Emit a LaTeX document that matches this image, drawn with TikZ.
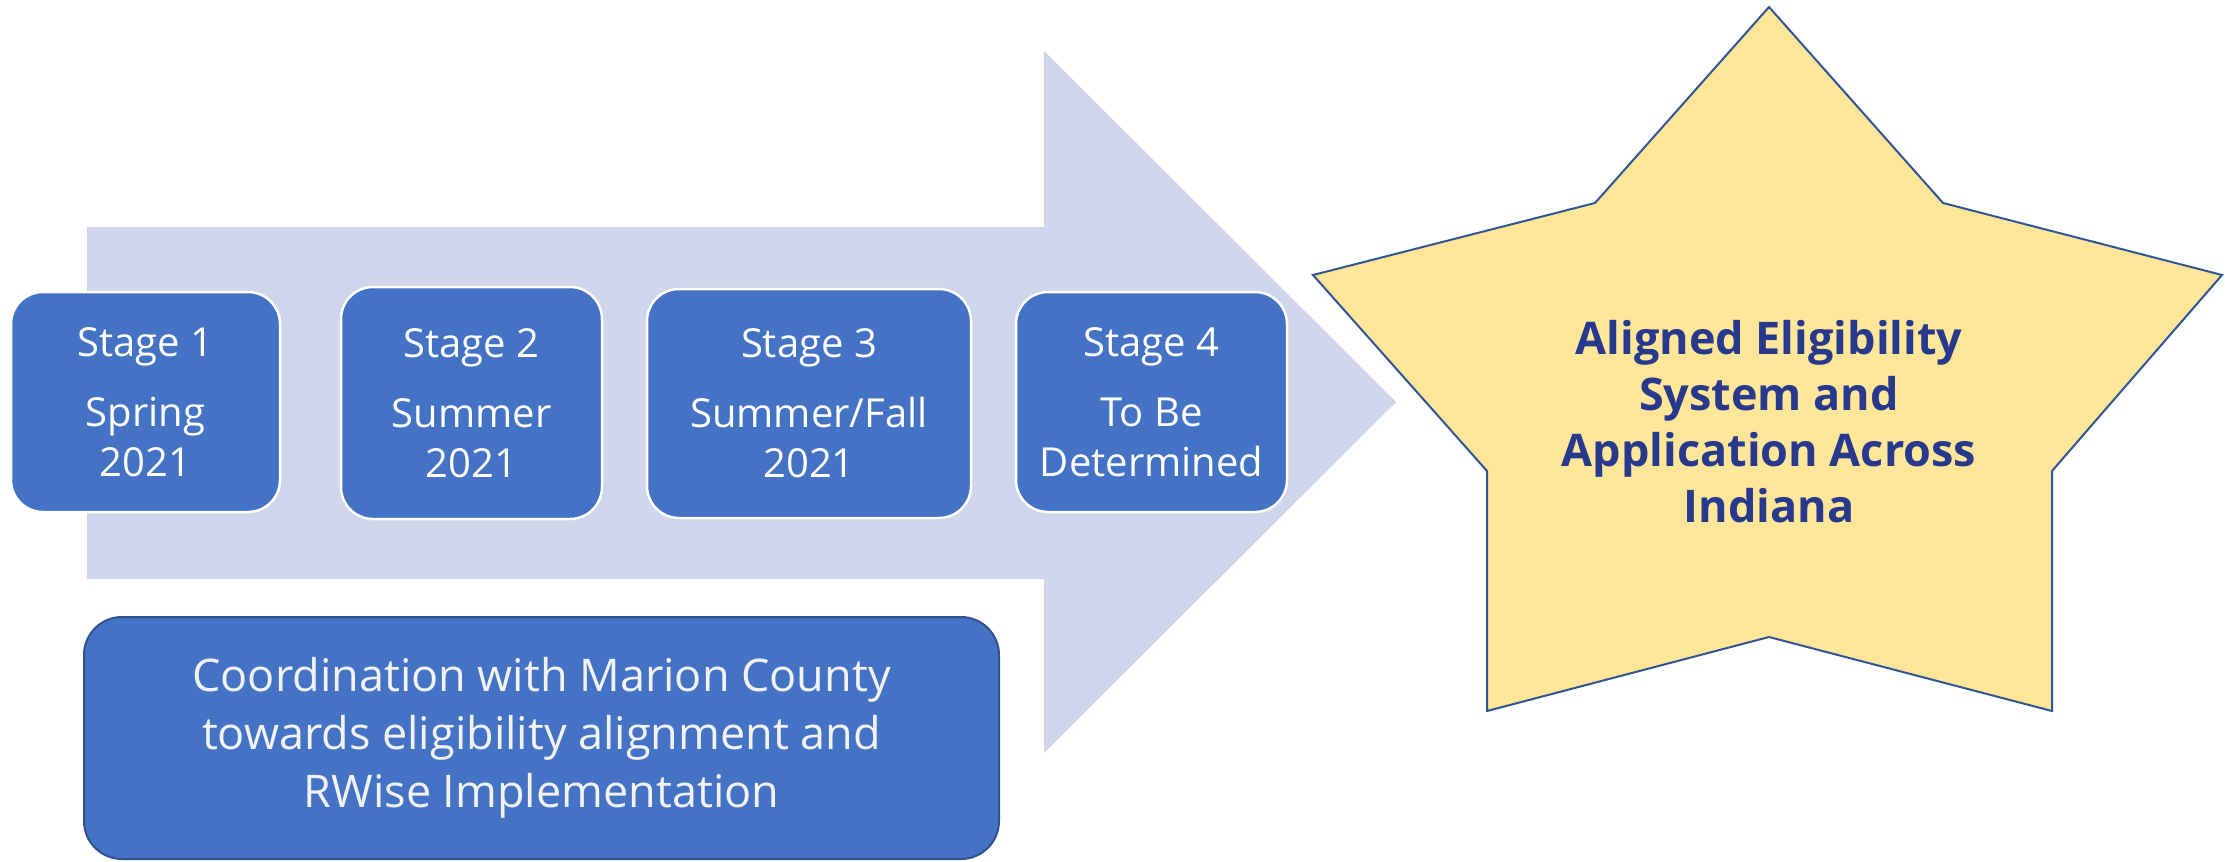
\documentclass[tikz,border=0pt]{standalone}
\usepackage{fontspec}
\setmainfont{Open Sans}
\definecolor{stageblue}{HTML}{4472C4}
\definecolor{arrowfill}{HTML}{CFD5EA}
\definecolor{stargold}{HTML}{FFE699}
\definecolor{starline}{HTML}{2F5597}
\definecolor{startext}{HTML}{26398C}
\definecolor{boxline}{HTML}{2F528F}

\begin{document}
\begin{tikzpicture}[x=1pt,y=-1pt,
  stagebox/.style={draw=white,line width=2.5pt,fill=stageblue,rounded corners=32pt,
    text=white,align=center,inner sep=0pt,font=\fontsize{40}{50}\selectfont},
  coordbox/.style={draw=boxline,line width=2pt,fill=stageblue,rounded corners=38pt,
    text=white!95!black,align=center,inner sep=0pt,font=\fontsize{45}{58}\selectfont}]
\useasboundingbox (0,0) rectangle (2225,862);
% wide arrow behind the stages
\fill[arrowfill] (87,227) -- (1044,227) -- (1044,51) -- (1396,402) -- (1044,753)
  -- (1044,579) -- (87,579) -- cycle;
% the goal star
\draw[starline,fill=stargold,line width=2pt] (1769,7) -- (1943,203) -- (2222,275)
  -- (2052,471) -- (2052,711) -- (1769,637) -- (1487,711) -- (1487,471)
  -- (1313,275) -- (1595,203) -- cycle;
\node[text=startext,align=center,font=\bfseries\fontsize{45}{56}\selectfont] (goal)
  at (1769,422) {Aligned Eligibility\\System and\\Application Across\\Indiana};
% stages
\node[stagebox,minimum width=269pt,minimum height=220pt] (stage1) at (145.5,402)
  {Stage 1\\[20pt]Spring\\2021};
\node[stagebox,minimum width=261pt,minimum height=232pt] (stage2) at (471.5,403)
  {Stage 2\\[20pt]Summer\\2021};
\node[stagebox,minimum width=324pt,minimum height=229pt] (stage3) at (809,403.5)
  {Stage 3\\[20pt]Summer/Fall\\2021};
\node[stagebox,minimum width=271pt,minimum height=220pt] (stage4) at (1151.5,402)
  {Stage 4\\[20pt]To Be\\Determined};
\node[coordbox,minimum width=915pt,minimum height=242pt] (coord) at (541.5,738)
  {Coordination with Marion County\\towards eligibility alignment and\\RWise Implementation};
\end{tikzpicture}
\end{document}
